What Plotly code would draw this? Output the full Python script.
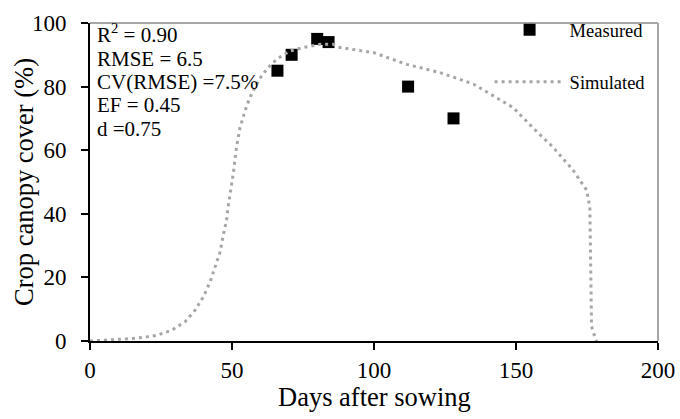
import plotly.graph_objects as go

# Measured data
meas_days = [66, 71, 80, 84, 112, 128]
meas_cc = [85, 90, 95, 94, 80, 70]

# Simulated canopy cover
sim_days = [0, 5, 10, 15, 20, 23.5, 28.8, 33.4, 37, 39.9, 42.3, 44, 45.8, 46.9, 48.1,
            48.7, 50.5, 51.6, 52.8, 54.6, 56.3, 58.1, 60.4, 62.8, 65.7, 70.4, 75.1,
            81, 85.6, 88, 99.8, 111.5, 123.2, 135, 142, 149, 156, 163, 170.2, 174.9,
            176, 176.6, 177.5, 178.4]
sim_cc = [0, 0.2, 0.4, 0.8, 1.3, 1.8, 3.4, 6, 9.7, 13.9, 18.6, 23.3, 28, 33.2, 38,
          42.6, 53, 61, 67, 72.4, 76.6, 79.7, 83.4, 86, 88.6, 91.2, 92.3,
          93.3, 93.3, 92.3, 90.7, 87, 84.4, 80.8, 77, 73.4, 67, 61, 53.6, 47.4,
          42, 4.6, 2, 0]

stats_lines = ["R<sup>2</sup> = 0.90", "RMSE = 6.5", "CV(RMSE) =7.5%", "EF = 0.45", "d =0.75"]
x_title = "Days after sowing"
y_title = "Crop canopy cover (%)"

FONT = "Liberation Serif, Times New Roman, serif"

fig = go.Figure()
fig.add_trace(go.Scatter(
    x=meas_days, y=meas_cc, mode="markers", name="Measured",
    marker=dict(symbol="square", size=12, color="black"),
    legendgroup="a"))
fig.add_trace(go.Scatter(
    x=sim_days, y=sim_cc, mode="lines", name="Simulated",
    line=dict(color="#A6A6A6", width=3, dash="3px,4px"),
    legendgroup="b"))

fig.update_layout(
    width=680, height=419,
    margin=dict(l=90, r=22, t=22, b=78),
    plot_bgcolor="white", paper_bgcolor="white",
    font=dict(family=FONT, color="black"),
    showlegend=True,
    legend=dict(x=0.7035, y=1.034, xanchor="left", yanchor="top",
                bgcolor="rgba(0,0,0,0)", font=dict(size=18.5, family=FONT),
                tracegroupgap=25, itemwidth=70),
    xaxis=dict(range=[0, 200], tickvals=[0, 50, 100, 150, 200], automargin=False,
               showgrid=False, zeroline=False, showline=True, linecolor="black",
               linewidth=2, ticks="outside", ticklen=7, tickwidth=2, tickcolor="black",
               tickfont=dict(size=23, family=FONT), ticklabelstandoff=0),
    yaxis=dict(range=[0, 100], tickvals=[0, 20, 40, 60, 80, 100], automargin=False,
               showgrid=False, zeroline=False, showline=True, linecolor="black",
               linewidth=2, ticks="outside", ticklen=7, tickwidth=2, tickcolor="black",
               tickfont=dict(size=23, family=FONT), ticklabelstandoff=10),
)

# top and right frame lines (gray)
fig.add_shape(type="line", xref="paper", yref="paper", x0=0, x1=1, y0=1, y1=1,
              line=dict(color="#A6A6A6", width=2))
fig.add_shape(type="line", xref="paper", yref="paper", x0=1, x1=1, y0=0, y1=1,
              line=dict(color="#A6A6A6", width=2))

# axis titles
fig.add_annotation(xref="paper", yref="paper", x=0.5, y=-0.1755, xanchor="center", yanchor="middle",
                   text=x_title, showarrow=False, font=dict(size=26.5, family=FONT, color="black"))
fig.add_annotation(xref="paper", yref="paper", x=-0.1162, y=0.5, xanchor="center", yanchor="middle",
                   text=y_title, textangle=-90, showarrow=False,
                   font=dict(size=26.5, family=FONT, color="black"))

stat_y = [0.968, 0.887, 0.814, 0.741, 0.668]
for line, yy in zip(stats_lines, stat_y):
    fig.add_annotation(xref="paper", yref="paper", x=0.008, y=yy,
                       xanchor="left", yanchor="middle",
                       text=line, showarrow=False, align="left",
                       font=dict(size=21, family=FONT, color="black"))

fig.write_html("out.html")
